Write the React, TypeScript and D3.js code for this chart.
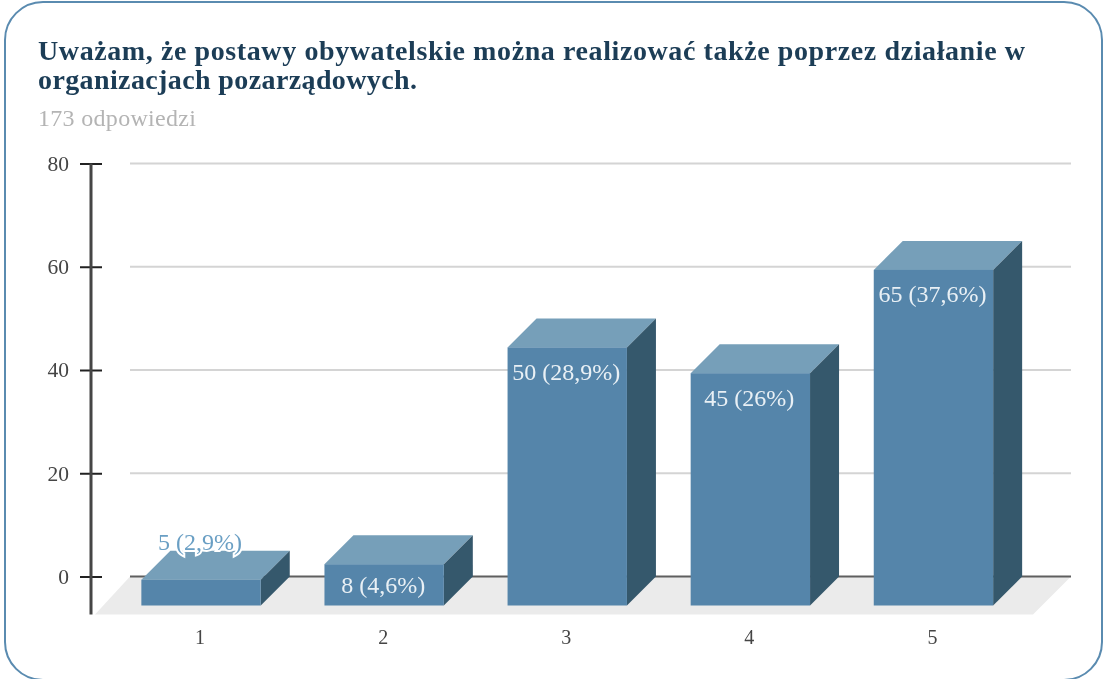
import * as d3 from 'd3';
import React, { useEffect, useRef } from 'react';

const categories = ['1', '2', '3', '4', '5'];
const counts = [5, 8, 50, 45, 65];
const labels = ['5 (2,9%)', '8 (4,6%)', '50 (28,9%)', '45 (26%)', '65 (37,6%)'];
const yTicks = [0, 20, 40, 60, 80];
const titleLines = [
    'Uważam, że postawy obywatelskie można realizować także poprzez działanie w',
    'organizacjach pozarządowych.',
];
const subtitle = '173 odpowiedzi';

const WIDTH = 1104;
const HEIGHT = 679;
const FONT = '"Liberation Serif", serif';
const DEPTH = 29; // 3d offset of the bars, same in x and y
const FLOOR_DROP = 38;

const App = () => {
    const container = useRef<SVGSVGElement>(null);

    useEffect(() => {
        const root = d3.select(container.current);
        root.selectAll('*').remove();

        // The reference is a slightly soft screenshot
        root.append('filter')
            .attr('id', 'soft')
            .attr('x', 0).attr('y', 0)
            .attr('width', '100%').attr('height', '100%')
            .append('feGaussianBlur')
            .attr('stdDeviation', 0.55);
        const svg = root.append('g').attr('filter', 'url(#soft)');

        const x = d3.scaleBand<string>()
            .domain(categories)
            .range([109.5, 1025])
            .paddingInner(0.348)
            .paddingOuter(0.174);
        const y = d3.scaleLinear().domain([0, 80]).range([576.5, 163.5]);

        const axisX = 91;
        const plotLeft = 130;
        const plotRight = 1071;

        svg.append('rect')
            .attr('width', WIDTH).attr('height', HEIGHT)
            .attr('fill', '#fff');

        // Card, its bottom edge falls just outside the picture
        svg.append('rect')
            .attr('x', 5).attr('y', 2)
            .attr('width', 1097).attr('height', 678)
            .attr('rx', 38).attr('ry', 38)
            .attr('fill', '#fff')
            .attr('stroke', '#5a8bb0')
            .attr('stroke-width', 2);

        // Titles
        svg.selectAll('text.title')
            .data(titleLines)
            .enter()
            .append('text')
            .attr('class', 'title')
            .attr('x', 38)
            .attr('y', (d, i) => 60 + i * 29)
            .attr('font-family', FONT)
            .attr('font-weight', 'bold')
            .attr('font-size', 28)
            .attr('fill', '#1c3d57')
            .attr('textLength', (d, i) => (i === 0 ? 987 : 379))
            .attr('lengthAdjust', 'spacing')
            .text((d) => d);

        svg.append('text')
            .attr('x', 38).attr('y', 126)
            .attr('font-family', FONT)
            .attr('font-size', 24)
            .attr('fill', '#b4b4b4')
            .attr('textLength', 158)
            .text(subtitle);

        // Floor
        const floor = d3.path();
        floor.moveTo(plotLeft, y(0));
        floor.lineTo(plotRight, y(0));
        floor.lineTo(plotRight - DEPTH - 9, y(0) + FLOOR_DROP);
        floor.lineTo(axisX + 4, y(0) + FLOOR_DROP);
        floor.closePath();
        svg.append('path').attr('d', floor.toString()).attr('fill', '#ebebeb');

        // Grid
        svg.selectAll('line.grid')
            .data(yTicks)
            .enter()
            .append('line')
            .attr('class', 'grid')
            .attr('x1', plotLeft).attr('x2', plotRight)
            .attr('y1', (d) => y(d)).attr('y2', (d) => y(d))
            .attr('stroke', (d) => (d === 0 ? '#5f5f5f' : '#d4d4d4'))
            .attr('stroke-width', 2);

        // Y axis
        const gy = svg.append('g')
            .attr('transform', 'translate(' + axisX + ',0)')
            .call(d3.axisLeft(y).tickValues(yTicks).tickSize(11).tickSizeOuter(0));
        gy.select('.domain').remove();
        gy.selectAll('.tick line')
            .attr('x1', -11).attr('x2', 11)
            .attr('stroke', '#222').attr('stroke-width', 2);
        gy.selectAll('.tick text')
            .attr('x', -22)
            .attr('font-family', FONT)
            .attr('font-size', 21.5)
            .attr('fill', '#444');
        svg.append('line')
            .attr('x1', axisX).attr('x2', axisX)
            .attr('y1', y(80)).attr('y2', y(0) + FLOOR_DROP)
            .attr('stroke', '#444')
            .attr('stroke-width', 3);

        // X axis, labels only
        const gx = svg.append('g')
            .attr('transform', 'translate(-1,' + (y(0) + 50) + ')')
            .call(d3.axisBottom(x).tickSize(0));
        gx.select('.domain').remove();
        gx.selectAll('.tick text')
            .attr('font-family', FONT)
            .attr('font-size', 20)
            .attr('fill', '#444');

        // Bars: y(v) is the back edge, the front face sits DEPTH lower and to the left
        const bars = svg.selectAll('g.bar')
            .data(counts)
            .enter()
            .append('g')
            .attr('class', 'bar');

        const frontLeft = (i: number) => x(categories[i]) as number;
        const frontRight = (i: number) => frontLeft(i) + x.bandwidth();
        const frontTop = (d: number) => y(d) + DEPTH;
        const frontBottom = y(0) + DEPTH;
        const poly = d3.line();

        bars.append('path')
            .attr('fill', '#769fb9')
            .attr('d', (d, i) => poly([
                [frontLeft(i), frontTop(d)],
                [frontLeft(i) + DEPTH, y(d)],
                [frontRight(i) + DEPTH, y(d)],
                [frontRight(i), frontTop(d)],
            ]) + 'Z');

        bars.append('path')
            .attr('fill', '#36586c')
            .attr('d', (d, i) => poly([
                [frontRight(i), frontTop(d)],
                [frontRight(i) + DEPTH, y(d)],
                [frontRight(i) + DEPTH, y(0)],
                [frontRight(i), frontBottom],
            ]) + 'Z');

        bars.append('rect')
            .attr('fill', '#5585aa')
            .attr('x', (d, i) => frontLeft(i))
            .attr('y', (d) => frontTop(d))
            .attr('width', x.bandwidth())
            .attr('height', (d) => frontBottom - frontTop(d));

        // Value labels: inside the front face, except when it is too short
        bars.append('text')
            .attr('x', (d, i) => frontLeft(i) + x.bandwidth() / 2 - 1)
            .attr('y', (d) => (d < 8 ? y(d) - 1 : d === 8 ? frontTop(d) + 28.5 : frontTop(d) + 32.5))
            .attr('text-anchor', 'middle')
            .attr('font-family', FONT)
            .attr('font-size', 24)
            .attr('fill', (d) => (d < 8 ? '#6a9fc4' : '#e9f0f5'))
            .attr('stroke', (d) => (d < 8 ? '#fff' : 'none'))
            .attr('stroke-width', (d) => (d < 8 ? 4 : 0))
            .attr('paint-order', 'stroke')
            .text((d, i) => labels[i]);
    }, []);

    return (
        <svg
            ref={container}
            width={WIDTH}
            height={HEIGHT}
            style={{ position: 'absolute', left: 0, top: 0, display: 'block' }}
        />
    );
};

export default App;
